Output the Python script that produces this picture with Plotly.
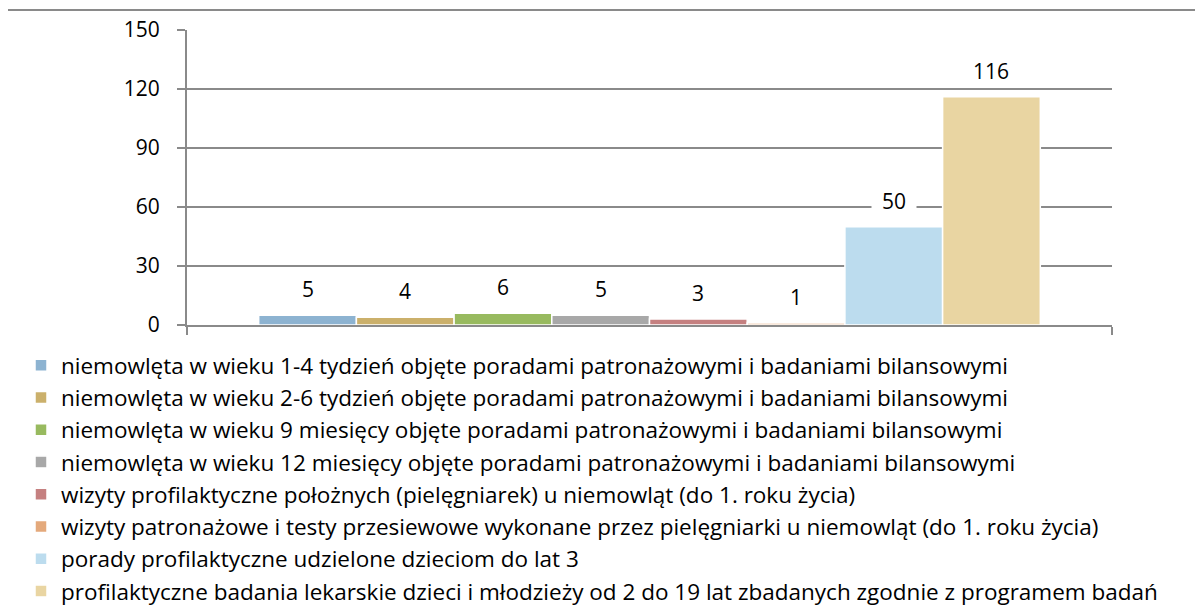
import plotly.graph_objects as go

series_names = [
    "niemowlęta w wieku 1-4 tydzień objęte poradami patronażowymi i badaniami bilansowymi",
    "niemowlęta w wieku 2-6 tydzień objęte poradami patronażowymi i badaniami bilansowymi",
    "niemowlęta w wieku 9 miesięcy objęte poradami patronażowymi i badaniami bilansowymi",
    "niemowlęta w wieku 12 miesięcy objęte poradami patronażowymi i badaniami bilansowymi",
    "wizyty profilaktyczne położnych (pielęgniarek) u niemowląt (do 1. roku życia)",
    "wizyty patronażowe i testy przesiewowe wykonane przez pielęgniarki u niemowląt (do 1. roku życia)",
    "porady profilaktyczne udzielone dzieciom do lat 3",
    "profilaktyczne badania lekarskie dzieci i młodzieży od 2 do 19 lat zbadanych zgodnie z programem badań",
]
values = [5, 4, 6, 5, 3, 1, 50, 116]
colors = ["#8DB3D1", "#CBB06B", "#98BA5F", "#A8A8A8", "#C58080", "#E4A97B", "#BCDCEE", "#E9D5A2"]
category = [""]
y_ticks = [0, 30, 60, 90, 120, 150]

FONT = "'Open Sans', Lato, sans-serif"
GRID = "#8A8A8A"
W, H = 1203, 610
PAGE = 8  # default page body margin
PLOT_L, PLOT_R, PLOT_T, PLOT_B = 187, 1112, 30, 325  # target screen positions
ML, MT = PLOT_L - PAGE, PLOT_T - PAGE
PW, PH = PLOT_R - PLOT_L, PLOT_B - PLOT_T
MR, MB = W - ML - PW, H - MT - PH
BARGAP = 0.155


def px_x(px):
    return (px - PLOT_L) / PW


def px_y(py):
    return (PLOT_B - py) / PH


fig = go.Figure()
for name, v, c in zip(series_names, values, colors):
    fig.add_trace(go.Bar(
        x=category, y=[v], name=name,
        marker=dict(color=c, line=dict(color="white", width=1.5)),
    ))

n = len(values)
for i, v in enumerate(values):
    xc = -0.5 + BARGAP / 2 + (i + 0.5) * (1 - BARGAP) / n
    fig.add_annotation(
        x=xc, y=v, xref="x", yref="y", text=str(v), showarrow=False,
        yanchor="middle", yshift=26, bgcolor="white", borderpad=2, width=40,
        font=dict(family=FONT, size=21, color="#000000"),
    )

# outer chart border (top and left edges visible)
fig.add_shape(type="line", xref="paper", yref="paper",
              x0=px_x(7), x1=px_x(1230), y0=px_y(10), y1=px_y(10),
              line=dict(color=GRID, width=2))
fig.add_shape(type="line", xref="paper", yref="paper",
              x0=px_x(7), x1=px_x(7), y0=px_y(10), y1=px_y(640),
              line=dict(color=GRID, width=2))

fig.update_layout(
    width=W, height=H,
    margin=dict(l=ML, r=MR, t=MT, b=MB, autoexpand=False),
    paper_bgcolor="white", plot_bgcolor="white",
    barmode="group", bargap=BARGAP, bargroupgap=0,
    font=dict(family=FONT, size=21, color="#000000"),
    showlegend=True,
    legend=dict(
        x=px_x(21), xanchor="left", y=px_y(344), yanchor="top",
        orientation="v", font=dict(family=FONT, size=22.5, color="#000000"),
        bgcolor="rgba(0,0,0,0)", tracegroupgap=0, traceorder="normal",
    ),
    xaxis=dict(
        type="category", showticklabels=False, showgrid=False,
        showline=True, linecolor=GRID, linewidth=2,
        ticks="outside", tickson="boundaries", ticklen=8, tickcolor=GRID, tickwidth=2,
        range=[-0.5, 0.5],
    ),
    yaxis=dict(
        range=[0, 150], tickvals=y_ticks, ticktext=[str(t) for t in y_ticks],
        showgrid=True, gridcolor=GRID, gridwidth=2,
        zeroline=False, showline=True, linecolor=GRID, linewidth=2,
        ticks="outside", ticklen=8, tickcolor=GRID, tickwidth=2,
        tickfont=dict(family=FONT, size=21, color="#000000"),
        ticklabelstandoff=13,
    ),
)

fig.write_html("out.html")
